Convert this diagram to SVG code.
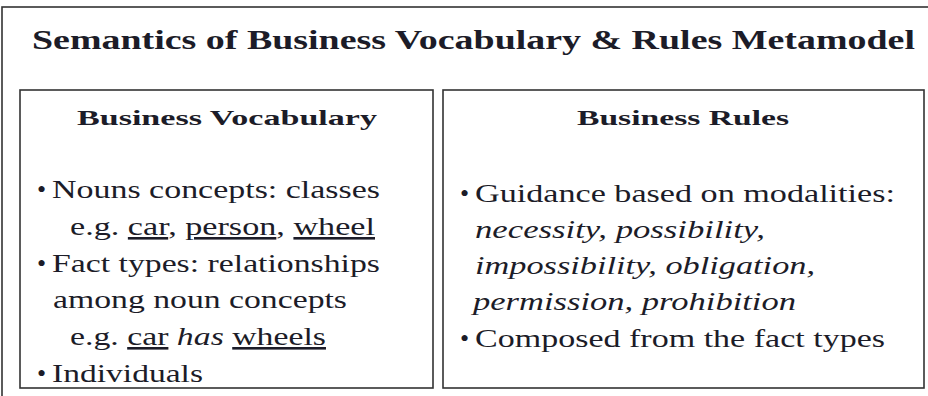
<svg xmlns="http://www.w3.org/2000/svg" width="928" height="396" viewBox="0 0 928 396">
<style>
.box{fill:#fff;stroke:#333;stroke-width:1.6}
.h{font-weight:bold;font-size:22px}
.b{font-size:26px}
.i{font-style:italic}
.u{text-decoration:underline}
</style>
<rect width="928" height="396" fill="#fff"/>
<g font-family="'Liberation Serif', 'Times New Roman', serif" fill="#1c1c28">
<g id="outer">
<rect class="box" x="2" y="7" width="940" height="400"/>
<text x="32" y="49" font-size="28" font-weight="bold" textLength="883" lengthAdjust="spacingAndGlyphs">Semantics of Business Vocabulary &amp; Rules Metamodel</text>
</g>
<g id="vocabulary">
<rect class="box" x="20" y="90" width="413" height="298"/>
<text class="h" x="77" y="125" textLength="300" lengthAdjust="spacingAndGlyphs">Business Vocabulary</text>
<text class="b" x="37" y="198">•</text>
<text class="b" x="52" y="198" textLength="328" lengthAdjust="spacingAndGlyphs">Nouns concepts: classes</text>
<text class="b" x="70" y="235" textLength="305" lengthAdjust="spacingAndGlyphs">e.g. <tspan class="u">car</tspan>, <tspan class="u">person</tspan>, <tspan class="u">wheel</tspan></text>
<text class="b" x="37" y="272">•</text>
<text class="b" x="52" y="272" textLength="328" lengthAdjust="spacingAndGlyphs">Fact types: relationships</text>
<text class="b" x="53" y="308" textLength="294" lengthAdjust="spacingAndGlyphs">among noun concepts</text>
<text class="b" x="70" y="345" textLength="256" lengthAdjust="spacingAndGlyphs">e.g. <tspan class="u">car</tspan> <tspan class="i">has</tspan> <tspan class="u">wheels</tspan></text>
<text class="b" x="37" y="382">•</text>
<text class="b" x="52" y="382" textLength="151" lengthAdjust="spacingAndGlyphs">Individuals</text>
</g>
<g id="rules">
<rect class="box" x="443" y="90" width="481" height="298"/>
<text class="h" x="577" y="125" textLength="212" lengthAdjust="spacingAndGlyphs">Business Rules</text>
<text class="b" x="460" y="202">•</text>
<text class="b" x="475" y="202" textLength="420" lengthAdjust="spacingAndGlyphs">Guidance based on modalities:</text>
<text class="b i" x="475" y="238" textLength="290" lengthAdjust="spacingAndGlyphs">necessity, possibility,</text>
<text class="b i" x="475" y="274" textLength="340" lengthAdjust="spacingAndGlyphs">impossibility, obligation,</text>
<text class="b i" x="473" y="310" textLength="323" lengthAdjust="spacingAndGlyphs">permission, prohibition</text>
<text class="b" x="460" y="347">•</text>
<text class="b" x="475" y="347" textLength="410" lengthAdjust="spacingAndGlyphs">Composed from the fact types</text>
</g>
</g>
<g id="connectors"/>
</svg>
